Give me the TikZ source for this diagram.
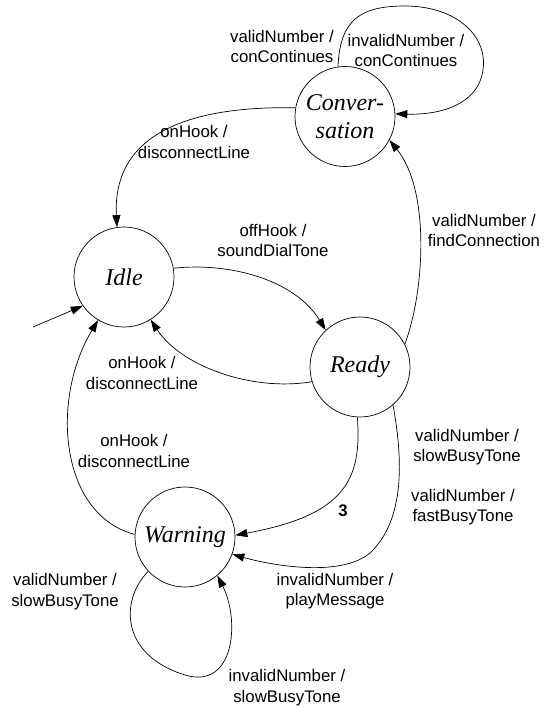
\documentclass[tikz,border=0pt]{standalone}
\usepackage{fontspec}
\setmainfont{Liberation Sans}
\newfontfamily\statefont{Liberation Serif}
\usetikzlibrary{arrows.meta}
\begin{document}
\begin{tikzpicture}[x=1pt,y=-1pt,
  state/.style={circle,draw,line width=0.7pt,minimum size=100pt,inner sep=0pt,
    font=\statefont\itshape\fontsize{24}{28}\selectfont,align=center},
  lbl/.style={font=\fontsize{16.8}{20.5}\selectfont,align=center,inner sep=0pt},
  edge/.style={line width=0.7pt,-{Triangle[length=12pt,width=8pt]}}]
\fill[white] (0,0) rectangle (550,708);
\useasboundingbox (0,0) rectangle (550,708);

\node[state] (conv) at (345,116.5) {Conver-\\sation};
\node[state] (idle) at (124,277) {Idle};
\node[state] (ready) at (360,367) {Ready};
\node[state] (warn) at (185,537) {Warning};

\coordinate (init) at (33,327);

% Conversation self-loop
\draw[edge] (conv.98) .. controls (340,20) and (360,6) .. (405,6)
  .. controls (455,6) and (488,35) .. (483,70)
  .. controls (478,105) and (440,115) .. (conv.3);
\node[lbl] (l1) at (282,46.5) {validNumber /\\conContinues};
\node[lbl] (l2) at (406,50.5) {invalidNumber /\\conContinues};

% Conversation -> Idle
\draw[edge] (conv.170) .. controls (200,106) and (112,128) .. (idle.98);
\node[lbl] (l3) at (194,142) {onHook /\\disconnectLine};

% Idle -> Ready
\draw[edge] (idle.10) .. controls (230,262) and (295,280) .. (ready.133);
\node[lbl] (l4) at (273,240.5) {offHook /\\soundDialTone};

% Ready -> Idle
\draw[edge] (ready.-163) .. controls (250,392) and (180,365) .. (idle.-58);
\node[lbl] (l5) at (142,373) {onHook /\\disconnectLine};

% Ready -> Conversation
\draw[edge] (ready.27) .. controls (425,290) and (430,190) .. (conv.-28);
\node[lbl] (l6) at (484,230.5) {validNumber /\\findConnection};

% Warning -> Idle
\draw[edge] (warn.177) .. controls (60,515) and (50,400) .. (idle.-121);
\node[lbl] (l7) at (134,451) {onHook /\\disconnectLine};

% initial
\draw[edge] (init) -- (idle.-145);

% Ready -> Warning (3)
\draw[edge] (ready.-93) .. controls (362,480) and (345,515) .. (warn.2);
\node[lbl,font=\bfseries\fontsize{16.8}{20.5}\selectfont] (l8) at (343,511) {3};

% Ready -> Warning (big)
\draw[edge] (ready.-49) .. controls (403,460) and (405,520) .. (370,553)
  .. controls (340,578) and (270,565) .. (warn.-20);
\node[lbl] (l9) at (467,447) {validNumber /\\slowBusyTone};
\node[lbl] (l10) at (463,507) {validNumber /\\fastBusyTone};
\node[lbl] (l11) at (335,591) {invalidNumber /\\playMessage};

% Warning self-loop
\draw[edge] (warn.-137) .. controls (120,600) and (120,655) .. (185,675)
  .. controls (235,690) and (240,620) .. (warn.-50);
\node[lbl] (l12) at (65,591.5) {validNumber /\\slowBusyTone};
\node[lbl] (l13) at (287,687.5) {invalidNumber /\\slowBusyTone};
\end{tikzpicture}
\end{document}
